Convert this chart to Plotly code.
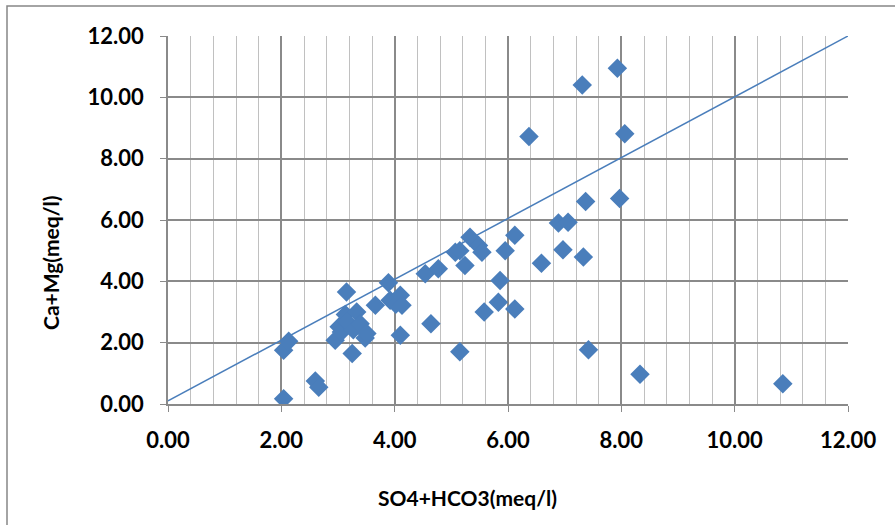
import plotly.graph_objects as go

so4_hco3 = [2.04, 2.04, 2.13, 2.60, 2.66, 2.95, 3.02, 3.06, 3.13, 3.16, 3.15, 3.25,
            3.27, 3.33, 3.39, 3.48, 3.51, 3.66, 3.89, 3.92, 4.02, 4.10, 4.13, 4.10,
            4.54, 4.77, 4.64, 5.07, 5.15, 5.24, 5.33, 5.48, 5.54, 5.58, 5.15, 5.86,
            5.83, 5.95, 6.12, 6.12, 6.59, 6.37, 6.89, 7.06, 6.97, 7.33, 7.37, 7.31,
            7.42, 7.93, 7.97, 8.06, 8.33, 10.85]
ca_mg = [0.17, 1.75, 2.05, 0.75, 0.55, 2.08, 2.52, 2.35, 2.92, 2.68, 3.65, 1.65,
         2.42, 3.00, 2.62, 2.15, 2.30, 3.22, 3.95, 3.38, 3.25, 3.55, 3.22, 2.24,
         4.25, 4.41, 2.62, 4.95, 5.00, 4.52, 5.44, 5.17, 4.95, 3.00, 1.70, 4.03,
         3.32, 5.00, 5.50, 3.10, 4.59, 8.72, 5.90, 5.93, 5.03, 4.79, 6.60, 10.40,
         1.77, 10.95, 6.70, 8.81, 0.97, 0.66]
line_x = [0.0, 12.0]
line_y = [0.1, 12.0]
tick_vals = [0, 2, 4, 6, 8, 10, 12]
tick_text = ["0.00", "2.00", "4.00", "6.00", "8.00", "10.00", "12.00"]

BLUE = "#4a7ebb"
FONT = "Lato"

fig = go.Figure()
fig.add_trace(go.Scatter(x=line_x, y=line_y, mode="lines",
                         line=dict(color=BLUE, width=1.5), showlegend=False,
                         hoverinfo="skip"))
fig.add_trace(go.Scatter(x=so4_hco3, y=ca_mg, mode="markers",
                         marker=dict(symbol="diamond", size=15, color=BLUE,
                                     line=dict(width=0)),
                         showlegend=False))

L, R, T, B = 168, 47, 36, 121
W, H = 895, 525
pw = W - L - R
ph = H - T - B

def px_to_paper_x(px):
    return (px - L) / pw

def px_to_paper_y(py):
    return (H - B - py) / ph

fig.update_layout(
    width=W, height=H,
    margin=dict(l=L, r=R, t=T, b=B),
    paper_bgcolor="white", plot_bgcolor="white",
    font=dict(family=FONT, color="black"),
    xaxis=dict(range=[0, 12], tickvals=tick_vals, ticktext=tick_text,
               showgrid=True, gridcolor="#8a8a8a", gridwidth=1.5,
               minor=dict(dtick=0.4, showgrid=True, gridcolor="#c0c0c0",
                          gridwidth=1.3, ticks=""),
               showline=True, linecolor="#8a8a8a", linewidth=1.5,
               ticks="outside", ticklen=6, tickcolor="#8a8a8a",
               tickfont=dict(family=FONT, size=22, color="black", weight="bold"),
               ticklabelstandoff=10,
               zeroline=False, fixedrange=True),
    yaxis=dict(range=[0, 12], tickvals=tick_vals, ticktext=tick_text,
               showgrid=True, gridcolor="#8a8a8a", gridwidth=1.5,
               showline=True, linecolor="#8a8a8a", linewidth=1.5,
               ticks="outside", ticklen=6, tickcolor="#8a8a8a",
               tickfont=dict(family=FONT, size=22, color="black", weight="bold"),
               ticklabelstandoff=12,
               zeroline=False, fixedrange=True),
    shapes=[dict(type="rect", xref="paper", yref="paper",
                 x0=px_to_paper_x(7), x1=px_to_paper_x(905),
                 y0=px_to_paper_y(540), y1=px_to_paper_y(6),
                 line=dict(color="#868686", width=1.5), layer="below")],
    annotations=[
        dict(text="<b>SO4+HCO3(meq/l)</b>", xref="paper", yref="paper",
             x=px_to_paper_x(467), y=px_to_paper_y(497), showarrow=False,
             xanchor="center", yanchor="middle",
             font=dict(family=FONT, size=21, color="black")),
        dict(text="<b>Ca+Mg(meq/l)</b>", xref="paper", yref="paper",
             x=px_to_paper_x(50), y=px_to_paper_y(263), showarrow=False,
             textangle=-90, xanchor="center", yanchor="middle",
             font=dict(family=FONT, size=21, color="black")),
    ],
)

fig.write_html("out.html", config={"displayModeBar": False},
               post_script="document.body.style.margin='0';document.body.style.padding='0';")
